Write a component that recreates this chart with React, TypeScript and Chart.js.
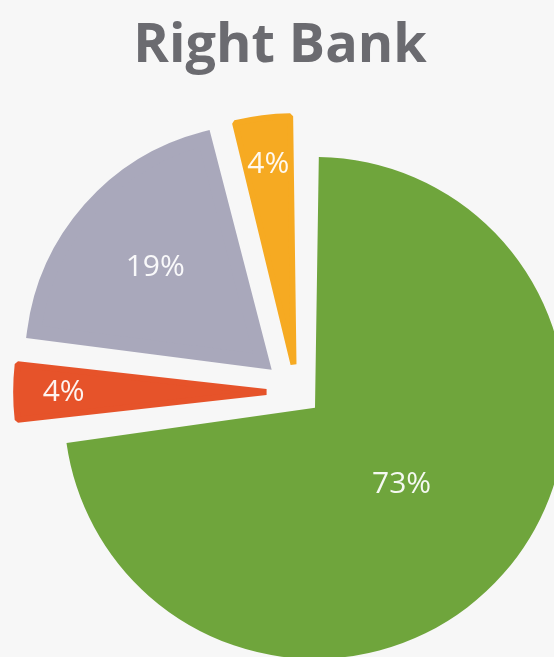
import React, { useEffect, useRef } from "react";
import { Chart, registerables } from "chart.js";

Chart.register(...registerables);

// ---- data ----
const TITLE = "Right Bank";
const categories = ["Segment A", "Segment B", "Segment C", "Segment D"];
const shares = [73, 4, 19, 4];
const valueLabels = ["73%", "4%", "19%", "4%"];

// ---- style ----
const sliceColors = ["#6fa53c", "#e6532a", "#a9a8bb", "#f6aa22"];
// Chart.js moves an arc outward by offset / 4
const explode = [96, 123, 185, 112];
const sliceBorders = [0, 6, 14, 6];
const sliceJoins = ["miter", "bevel", "miter", "bevel"];

const labelPlugin = {
  id: "sliceLabels",
  afterDatasetsDraw(chart: any) {
    const ctx = chart.ctx;
    const meta = chart.getDatasetMeta(0);
    const total = shares.reduce((a, b) => a + b, 0);
    ctx.save();
    ctx.font = "30px 'Open Sans'";
    ctx.fillStyle = "rgba(255,255,255,0.93)";
    ctx.textAlign = "center";
    ctx.textBaseline = "middle";
    meta.data.forEach((arc: any, i: number) => {
      const p = arc.getProps(["x", "y", "startAngle", "endAngle", "outerRadius", "circumference"], true);
      const off = (arc.options.offset || 0) / 4;
      const fix = 1 - Math.sin(Math.min(Math.PI, p.circumference || 0));
      const r = p.outerRadius + off * fix;
      const mid = (p.startAngle + p.endAngle) / 2;
      const share = shares[i] / total;
      const f = share < 0.1 ? 0.81 : share < 0.5 ? 0.62 : 0.46;
      const d = off + f * r;
      ctx.fillText(valueLabels[i], p.x + Math.cos(mid) * d, p.y + Math.sin(mid) * d);
    });
    ctx.restore();
  },
};

export default function App() {
  const canvasRef = useRef<HTMLCanvasElement | null>(null);

  useEffect(() => {
    if (!canvasRef.current) return;
    const chart = new Chart(canvasRef.current, {
      type: "pie",
      data: {
        labels: categories,
        datasets: [
          {
            data: shares,
            backgroundColor: sliceColors,
            borderColor: sliceColors,
            borderWidth: sliceBorders,
            borderJoinStyle: sliceJoins,
            offset: explode,
            radius: 227,
          } as any,
        ],
      },
      options: {
        animation: false,
        responsive: false,
        events: [],
        layout: { padding: 0 },
        plugins: {
          legend: { display: false },
          title: { display: false },
          tooltip: { enabled: false },
        },
      },
      plugins: [labelPlugin],
    });
    return () => chart.destroy();
  }, []);

  return (
    <div
      style={{
        position: "fixed",
        left: 0,
        top: 0,
        width: 554,
        height: 657,
        overflow: "hidden",
        background: "#f7f7f7",
      }}
    >
      <canvas
        ref={canvasRef}
        width={594}
        height={784}
        style={{ position: "absolute", left: 0, top: 0, width: 594, height: 784 }}
      />
      <div
        style={{
          position: "absolute",
          left: 0,
          top: 13,
          width: 560,
          textAlign: "center",
          fontFamily: "'Open Sans', sans-serif",
          fontWeight: 700,
          fontSize: 54,
          lineHeight: "56px",
          color: "#6b6b70",
        }}
      >
        {TITLE}
      </div>
    </div>
  );
}
